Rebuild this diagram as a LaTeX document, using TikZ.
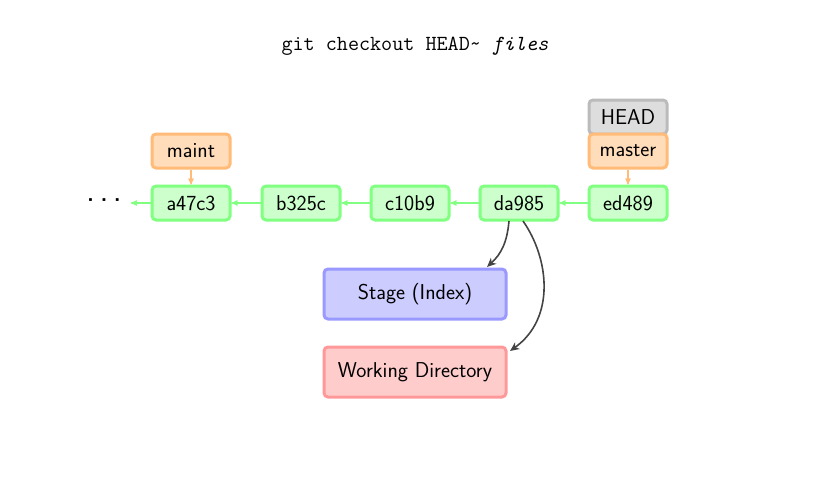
\documentclass[tikz,border=0pt]{standalone}
\usepackage{tikz}
\usetikzlibrary{arrows}
\usetikzlibrary{arrows.meta}
\usetikzlibrary{shapes}
\definecolor{commitfill}{HTML}{CCFFCC}
\definecolor{commitline}{HTML}{80FF80}
\definecolor{branchfill}{HTML}{FFDDBB}
\definecolor{branchline}{HTML}{FFBB77}
\definecolor{headfill}{HTML}{DDDDDD}
\definecolor{headline}{HTML}{BBBBBB}
\definecolor{stagefill}{HTML}{CCCCFF}
\definecolor{stageline}{HTML}{9999FF}
\definecolor{workfill}{HTML}{FFCCCC}
\definecolor{workline}{HTML}{FF9999}
\definecolor{arrowgray}{HTML}{444444}

\begin{document}
\begin{tikzpicture}[x=1pt, y=-1pt, >=stealth',
	every node/.style={inner sep=0pt, font=\fontsize{21.5}{25}\selectfont\sffamily},
	commit/.style={rectangle, rounded corners=4pt, draw=commitline, fill=commitfill, line width=3pt, minimum width=78pt, minimum height=34pt},
	branch/.style={rectangle, rounded corners=4pt, draw=branchline, fill=branchfill, line width=3pt, minimum width=78pt, minimum height=34pt},
	headref/.style={rectangle, rounded corners=4pt, draw=headline, fill=headfill, line width=3pt, minimum width=78pt, minimum height=34pt},
	area/.style={rectangle, rounded corners=4pt, line width=3pt, minimum width=182pt, minimum height=50pt},
	copyarrow/.style={-{Stealth[length=9pt, width=8pt, inset=2.5pt]}, arrowgray, line width=1.6pt}]
	\useasboundingbox (0,0) rectangle (831,485);
	%Title
	\node (title) at (415,46) {\fontsize{21.5}{25}\selectfont\ttfamily git checkout HEAD\textasciitilde{} \textit{files}};
	%Commits
	\node (dots) at (104,203) {\bfseries\textperiodcentered\hspace{-5pt}\textperiodcentered\hspace{-5pt}\textperiodcentered};
	\node [commit] (a47c3) at (191,203) {a47c3};
	\node [commit] (b325c) at (301,203) {b325c};
	\node [commit] (c10b9) at (410,203) {c10b9};
	\node [commit] (da985) at (519,203) {da985};
	\node [commit] (ed489) at (628,203) {ed489};
	\draw[->, commitline, line width=1.2pt] (a47c3) -- ([xshift=4pt]dots.east);
	\draw[->, commitline, line width=1.2pt] (b325c) -- (a47c3);
	\draw[->, commitline, line width=1.2pt] (c10b9) -- (b325c);
	\draw[->, commitline, line width=1.2pt] (da985) -- (c10b9);
	\draw[->, commitline, line width=1.2pt] (ed489) -- (da985);
	%Branches
	\node [headref] (head) at (628,117) {HEAD};
	\node [branch] (master) at (628,151) {master};
	\node [branch] (maint) at (191,151) {maint};
	\draw[->, branchline, line width=1.2pt] (maint) -- (a47c3);
	\draw[->, branchline, line width=1.2pt] (master) -- (ed489);
	%Stage and working directory
	\node [area, draw=stageline, fill=stagefill] (stage) at (415,294) {Stage (Index)};
	\node [area, draw=workline, fill=workfill] (work) at (415,372) {Working Directory};
	\coordinate (s1) at (509,221);
	\coordinate (s2) at (523,221);
	\coordinate (t1) at (487,267);
	\coordinate (t2) at (510,351);
	\draw[copyarrow] (s1) .. controls (507,243) and (501,254) .. (t1);
	\draw[copyarrow] (s2) .. controls (549,258) and (556,318) .. (t2);
\end{tikzpicture}
\end{document}
